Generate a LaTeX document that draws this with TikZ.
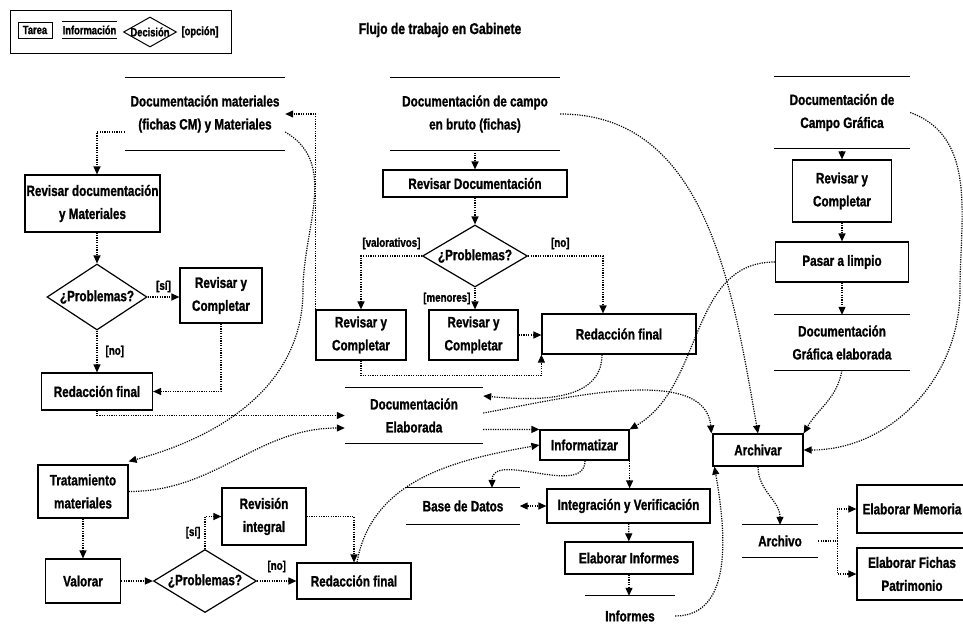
\documentclass[tikz,border=0pt]{standalone}
\usepackage{fontspec}
\setmainfont{Liberation Sans}[FakeStretch=0.78, BoldFeatures={FakeBold=1.2}]
\usepackage{tikz}
\usetikzlibrary{arrows.meta,shapes.geometric}

\begin{document}
\begin{tikzpicture}[x=1pt,y=-1pt,
    every node/.style={font=\bfseries\fontsize{15}{23}\selectfont, align=center, inner sep=0pt},
    tarea/.style={draw, line width=1.2pt, rectangle},
    info/.style={rectangle},
    decision/.style={draw, line width=1.2pt, diamond, aspect=1.6},
    opcion/.style={font=\bfseries\fontsize{12.5}{14}\selectfont},
    leyenda/.style={font=\bfseries\fontsize{12}{14}\selectfont},
    flow/.style={dash pattern=on 1.2pt off 1.2pt, line width=1.2pt, -{Triangle[length=8pt,width=7pt]}},
    flowboth/.style={flow, {Triangle[length=8pt,width=7pt]}-{Triangle[length=8pt,width=7pt]}}]
  \useasboundingbox (0,0) rectangle (963,633);

  \draw[line width=1pt] (10,10) rectangle (231,53);
  \node[tarea, leyenda, line width=1pt, minimum width=34pt, minimum height=16pt] (LT) at (35,30) {Tarea};
  \node[info, leyenda, minimum width=55pt, minimum height=16pt] (LI) at (89.5,30) {Información};
  \node[decision, line width=1pt, minimum width=53pt, minimum height=30pt] (LD) at (150,32) {};
  \node[leyenda] (LDT) at (LD) {Decisión};
  \node[opcion, leyenda] (LO) at (200,32) {[opción]};
  \node[font=\bfseries\fontsize{15.5}{18}\selectfont] (T) at (440,30) {Flujo de trabajo en Gabinete};

  \node[info, minimum width=160pt, minimum height=72pt] (DM) at (205,114) {Documentación materiales\\(fichas CM) y Materiales};
  \node[info, minimum width=170pt, minimum height=72pt] (DC) at (475,114) {Documentación de campo\\en bruto (fichas)};
  \node[info, minimum width=136pt, minimum height=71pt] (DG) at (842,112.5) {Documentación de\\Campo Gráfica};
  \node[info, minimum width=138pt, minimum height=55pt] (DE) at (414,415.5) {Documentación\\Elaborada};
  \node[info, minimum width=135pt, minimum height=55pt] (DGE) at (842,342.5) {Documentación\\Gráfica elaborada};
  \node[info, minimum width=113pt, minimum height=36pt] (BD) at (463,506) {Base de Datos};
  \node[info, minimum width=90pt, minimum height=40pt] (INF) at (630,616) {Informes};
  \node[info, minimum width=76pt, minimum height=32pt] (ARC) at (780,541) {Archivo};

  \node[tarea, minimum width=135pt, minimum height=57pt] (RDM) at (92.5,203.5) {Revisar documentación\\y Materiales};
  \node[decision, minimum width=100pt, minimum height=66pt] (P1) at (97,297) {¿Problemas?};
  \node[tarea, minimum width=82pt, minimum height=55pt] (RC1) at (221,295.5) {Revisar y\\Completar};
  \node[tarea, minimum width=111pt, minimum height=37pt] (RF1) at (97,391.5) {Redacción final};
  \node[tarea, minimum width=184pt, minimum height=27pt] (RD) at (475,183.5) {Revisar Documentación};
  \node[decision, minimum width=105pt, minimum height=62pt] (P2) at (475,256) {¿Problemas?};
  \node[tarea, minimum width=90pt, minimum height=50pt] (RC2) at (361,335) {Revisar y\\Completar};
  \node[tarea, minimum width=89pt, minimum height=50pt] (RC3) at (473.5,335) {Revisar y\\Completar};
  \node[tarea, minimum width=154pt, minimum height=40pt] (RF2) at (619,334) {Redacción final};
  \node[tarea, minimum width=99pt, minimum height=62pt] (RC4) at (842,191) {Revisar y\\Completar};
  \node[tarea, minimum width=133pt, minimum height=40pt] (PL) at (842,262) {Pasar a limpio};
  \node[tarea, minimum width=89pt, minimum height=30pt] (IZ) at (584.5,445) {Informatizar};
  \node[tarea, minimum width=90pt, minimum height=32pt] (AR) at (758,450) {Archivar};
  \node[tarea, minimum width=163pt, minimum height=34pt] (IV) at (628.5,506) {Integración y Verificación};
  \node[tarea, minimum width=128pt, minimum height=32pt] (EI) at (629,558) {Elaborar Informes};
  \node[tarea, minimum width=90pt, minimum height=53pt] (TM) at (83,491.5) {Tratamiento\\materiales};
  \node[tarea, minimum width=75pt, minimum height=44pt] (VA) at (83,581) {Valorar};
  \node[decision, minimum width=103pt, minimum height=63pt] (P3) at (205,581) {¿Problemas?};
  \node[tarea, minimum width=84pt, minimum height=57pt] (RI) at (264,516.5) {Revisión\\integral};
  \node[tarea, minimum width=114pt, minimum height=36pt] (RF3) at (354,581) {Redacción final};
  \node[tarea, minimum width=110pt, minimum height=48pt] (EM) at (912,509) {Elaborar Memoria};
  \node[tarea, minimum width=110pt, minimum height=52pt] (EF) at (912,574) {Elaborar Fichas\\Patrimonio};

  \foreach \n in {LI,DM,DC,DG,DE,DGE,BD,ARC}
    \draw[line width=1.2pt] (\n.north west) -- (\n.north east) (\n.south west) -- (\n.south east);
  \draw[line width=1.2pt] (INF.north west) -- (INF.north east);

  \coordinate (M) at (303,290);
  \coordinate (G) at (960,290);
  \coordinate (S) at ([xshift=19pt]ARC.east);

  \draw[flow] ([yshift=-18pt]DM.west) -| (P1.north |- RDM.north);
  \draw[flow] (RDM.south -| P1.north) -- (P1.north);
  \draw[flow] (P1.east) -- (RC1.west |- P1.east) node[opcion, midway, above=4pt] {[sí]};
  \draw[flow] (P1.south) -- (RF1.north) node[opcion, midway, right=8pt] {[no]};
  \draw[flow] (RC1.south) |- (RF1.east);
  \draw[flow] (RF1.south) |- (DE.west);
  \draw[flow] (TM.east) to[out=0,in=180] ([yshift=-12.5pt]DE.west);
  \draw[flow] ([yshift=-18pt]DM.east) to[out=-30,in=90] (M) to[out=-90,in=15] ([yshift=3pt]TM.north east);
  \draw[flow] (RC2.north west) |- (DM.east);

  \draw[flow] (DC) -- (RD);
  \draw[flow] (RD) -- (P2);
  \draw[flow] (P2.west) -| (RC2.north) node[opcion, pos=0.25, above=6pt] {[valorativos]};
  \draw[flow] (P2.south) -- (P2.south |- RC3.north) node[opcion, midway, left=4pt] {[menores]};
  \draw[flow] (P2.east) -| ([xshift=-16pt]RF2.north) node[opcion, pos=0.215, above=6pt] {[no]};
  \draw[flow] (RC3.east) -- (RF2.west |- RC3.east);
  \draw[flow] (RC2.south) -- ++(0,15) -| (RF2.south west);
  \draw[flow] ([xshift=-17pt]RF2.south) to[out=-90,in=-5] ([yshift=19.5pt]DE.east);
  \draw[flow] ([yshift=2.5pt]DE.east) to[out=10,in=95,looseness=0.8] ([xshift=-1pt]AR.north west);
  \draw[flow] ([yshift=-14pt]DE.east) -- (IZ.north west);
  \draw[flow] ([xshift=3pt]RF3.north) to[out=80,in=190] (IZ.west);
  \draw[flow] (PL.west) to[out=180,in=30] (IZ.north east);
  \draw[flow] (DC.east) to[out=0,in=100] (AR.north);

  \draw[flow] (DG) -- (RC4);
  \draw[flow] (RC4) -- (PL);
  \draw[flow] (PL) -- (DGE);
  \draw[flow] (DGE.south) to[out=-100,in=60] (AR.north east);
  \draw[flow] (DG.east) to[out=-20,in=90] (G) to[out=-90,in=0] (AR.east);

  \draw[flow] ([xshift=0.5pt]IZ.south) to[out=-90,in=90] ([xshift=29pt]BD.north);
  \draw[flow] (IZ.south east) -- (IZ.south east |- IV.north);
  \draw[flowboth] (BD.east) -- (IV.west);
  \draw[flow] (IV) -- (EI);
  \draw[flow] (EI.south) -- (EI.south |- INF.north);
  \draw[flow] (INF.east) to[out=0,in=-80] ([xshift=2pt]AR.south west);
  \draw[flow] (AR.south) to[out=-90,in=90] (ARC.north);
  \draw[flow, -] (ARC.east) -- (S);
  \draw[flow] (S) |- (EM.west);
  \draw[flow] (S) |- (EF.west);

  \draw[flow] (TM) -- (VA);
  \draw[flow] (VA) -- (P3);
  \draw[flow] (P3.north) |- (RI.west) node[opcion, pos=0.25, left=4pt] {[sí]};
  \draw[flow] (RI.east) -| (RF3.north);
  \draw[flow] (P3.east) -- (RF3.west) node[opcion, midway, above=8pt] {[no]};
\end{tikzpicture}
\end{document}
